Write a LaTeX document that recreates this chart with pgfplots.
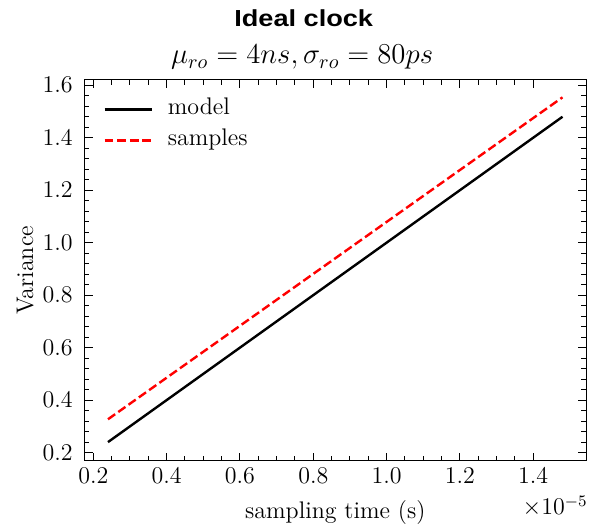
\documentclass[border=0pt]{standalone}
\usepackage{fontspec}
\usepackage{pgfplots}
\pgfplotsset{compat=1.18}
\newfontfamily\titlefont{Liberation Sans}[FakeStretch=1.17]

\begin{document}
\begin{tikzpicture}
\begin{axis}[
  scale only axis,
  width=250.65pt, height=190.5pt,
  xmin=0.1765e-5, xmax=1.544e-5,
  ymin=0.168, ymax=1.620,
  xtick={0.2e-5,0.4e-5,0.6e-5,0.8e-5,1.0e-5,1.2e-5,1.4e-5},
  ytick={0.2,0.4,0.6,0.8,1.0,1.2,1.4,1.6},
  scaled x ticks=base 10:5,
  xtick scale label code/.code={$\times 10^{#1}$},
  minor x tick num=3, minor y tick num=4,
  tick align=inside,
  xtick pos=both, ytick pos=both,
  major tick length=4pt, minor tick length=2.3pt,
  every tick/.style={black, line width=0.5pt},
  axis line style={line width=0.5pt},
  tick label style={font=\fontsize{12}{14}\selectfont},
  xticklabel style={/pgf/number format/fixed, /pgf/number format/fixed zerofill, /pgf/number format/precision=1},
  yticklabel style={/pgf/number format/fixed, /pgf/number format/fixed zerofill, /pgf/number format/precision=1, xshift=-2.5pt},
  every x tick scale label/.style={at={(rel axis cs:1,0)}, anchor=base east, inner sep=0pt, xshift=1pt, yshift=-27pt, font=\fontsize{12}{14}\selectfont},
  xlabel={sampling time (s)},
  ylabel={Variance},
  label style={font=\fontsize{12}{14}\selectfont},
  xlabel style={at={(rel axis cs:0.5,0)}, anchor=base, yshift=-28.7pt, inner sep=0pt},
  ylabel style={at={([xshift=-25.8pt]rel axis cs:0,0.5)}, anchor=base, inner sep=0pt},
  legend cell align=left,
  legend image code/.code={\draw[#1] (0pt,0pt) -- (23.5pt,0pt);},
  legend style={at={(rel axis cs:0,1)}, anchor=north west, xshift=9.15pt, yshift=-9pt,
    draw=none, fill=none, inner sep=0pt, row sep=4.5pt, column sep=7.5pt,
    nodes={inner sep=0pt, text height=8pt, text depth=3pt},
    font=\fontsize{12}{14}\selectfont},
  clip=false,
]
% variance predicted by the model and measured from the samples
\addplot[black, line width=1.2pt] coordinates {(0.24e-5,0.24) (1.48e-5,1.48)};
\addlegendentry{model}
\addplot[red, line width=1.2pt, dash pattern=on 4.4pt off 1.9pt] coordinates {(0.24e-5,0.327) (1.48e-5,1.554)};
\addlegendentry{samples}

\coordinate (bl) at (rel axis cs:0,0);
\coordinate (tr) at (rel axis cs:1,1);
\node[anchor=base, inner sep=0pt, xshift=109.5pt, yshift=26.75pt, font=\titlefont\bfseries\fontsize{11.6}{13}\selectfont]
  at (rel axis cs:0,1) {Ideal clock};
\node[anchor=base, inner sep=0pt, xshift=108.7pt, yshift=8pt, font=\fontsize{13.8}{16}\selectfont]
  at (rel axis cs:0,1) {$\mu_{ro} = 4ns, \sigma_{ro} = 80ps$};
\end{axis}
\pgfresetboundingbox
\path ([shift={(-42.35pt,-34pt)}]bl) rectangle ([shift={(1.5pt,40pt)}]tr);
\end{tikzpicture}
\end{document}
